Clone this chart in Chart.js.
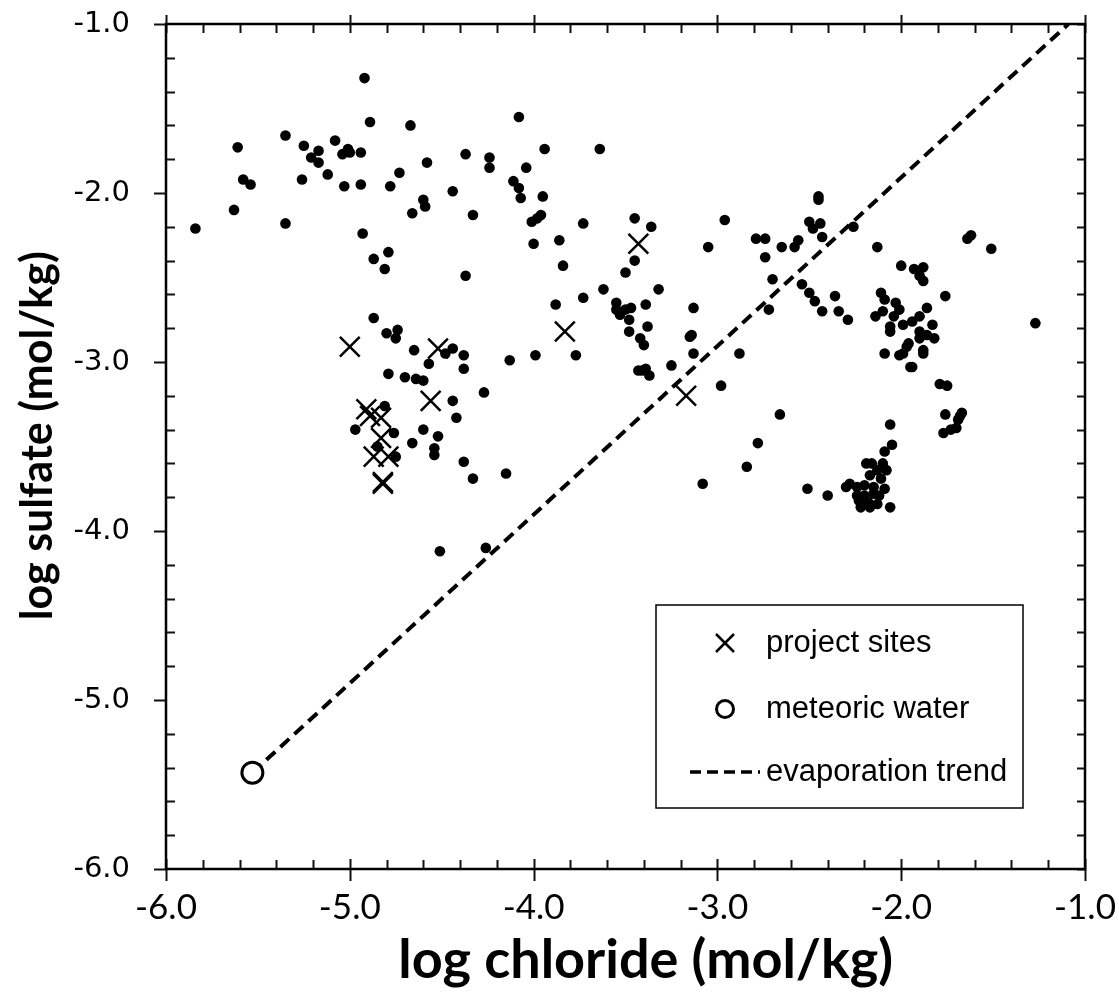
<!DOCTYPE html>
<html>
<head>
<meta charset="utf-8">
<script src="https://cdn.jsdelivr.net/npm/chart.js@4.4.0/dist/chart.umd.min.js"></script>
<style>
  html, body { margin: 0; padding: 0; background: #fff; }
  #wrap { width: 1119px; height: 1007px; }
</style>
</head>
<body>
<div id="wrap"><canvas id="sulfateChart"></canvas></div>
<script>
// other sites (black dots)
const chlorideOther = [
  -4.92,-4.89,-4.67,-5.35,-5.61,-5.25,-5.17,-5.21,-5.17,-5.08,-5.01,-5.04,-5.00,-4.94,-5.12,-5.26,-5.03,-4.94,-4.78,-4.73,
  -4.58,-4.37,-4.44,-4.60,-4.59,-4.66,-4.33,-5.58,-5.54,-5.63,-5.84,-5.35,-4.93,-4.87,-4.79,-4.81,-4.37,-4.87,-4.80,-4.74,
  -4.08,-4.24,-4.24,-3.94,-3.64,-4.04,-4.11,-4.08,-4.07,-3.95,-4.01,-3.98,-3.96,-4.00,-3.86,-3.84,-3.73,-3.45,-3.36,-3.45,
  -3.50,-3.62,-3.73,-3.88,-3.32,-3.39,-3.55,-3.47,-3.53,-3.48,-3.50,-3.55,-3.38,-3.48,-3.42,-3.13,-2.96,-3.05,-2.79,-2.74,
  -2.74,-2.70,-2.72,-3.15,
  -4.75,-4.65,-4.48,-4.44,-4.38,-4.57,-4.38,-4.79,-4.70,-4.64,-4.60,-4.44,-4.42,-4.81,-4.97,-4.76,-4.85,-4.75,-4.66,-4.60,
  -4.52,-4.54,-4.54,-4.38,-4.33,-4.51,
  -3.40,-3.14,-4.13,-3.99,-3.77,-3.13,-2.88,-3.41,-3.39,-3.37,-3.43,-3.25,-2.98,-4.27,-4.15,-2.66,-2.78,-2.84,-3.08,-4.26,
  -2.45,-2.45,-2.50,-2.44,-2.48,-2.43,-2.26,-2.65,-2.58,-2.56,-2.13,-2.54,-2.50,-2.47,-2.43,-2.36,-2.34,-2.29,-1.64,-1.62,
  -1.51,-2.00,-1.93,-1.88,-1.90,-1.88,-1.76,-1.27,
  -2.11,-2.09,-2.03,-2.01,-2.14,-2.10,-2.04,-1.86,-1.90,-1.94,-1.99,-1.83,-2.06,-2.06,-1.90,-1.86,-1.82,-1.90,-1.96,-1.97,
  -1.88,-1.88,-1.99,-2.01,-2.09,-1.95,-1.94,-1.79,-1.75,-1.76,-1.68,-1.67,
  -1.69,-1.70,-1.73,-1.77,-2.06,-2.05,-2.09,-2.19,-2.16,-2.10,-2.13,-2.08,-2.17,-2.11,-2.28,-2.30,-2.24,-2.20,-2.15,-2.09,
  -2.24,-2.20,-2.15,-2.12,-2.23,-2.18,-2.13,-2.22,-2.17,-2.06,-2.51,-2.40
];
const sulfateOther = [
  -1.32,-1.58,-1.60,-1.66,-1.73,-1.72,-1.75,-1.79,-1.82,-1.69,-1.74,-1.77,-1.76,-1.76,-1.89,-1.92,-1.96,-1.95,-1.96,-1.88,
  -1.82,-1.77,-1.99,-2.04,-2.08,-2.12,-2.13,-1.92,-1.95,-2.10,-2.21,-2.18,-2.24,-2.39,-2.35,-2.45,-2.49,-2.74,-2.83,-2.81,
  -1.55,-1.79,-1.85,-1.74,-1.74,-1.85,-1.93,-1.97,-2.03,-2.02,-2.17,-2.15,-2.13,-2.30,-2.28,-2.43,-2.18,-2.15,-2.20,-2.40,
  -2.47,-2.57,-2.62,-2.66,-2.57,-2.66,-2.65,-2.68,-2.72,-2.75,-2.69,-2.69,-2.79,-2.82,-2.86,-2.68,-2.16,-2.32,-2.27,-2.27,
  -2.38,-2.51,-2.69,-2.85,
  -2.86,-2.93,-2.95,-2.92,-2.96,-3.01,-3.04,-3.07,-3.09,-3.10,-3.11,-3.23,-3.33,-3.26,-3.40,-3.42,-3.50,-3.56,-3.48,-3.40,
  -3.44,-3.51,-3.55,-3.59,-3.69,-4.12,
  -2.90,-2.84,-2.99,-2.96,-2.96,-2.95,-2.95,-3.05,-3.04,-3.08,-3.05,-3.02,-3.14,-3.18,-3.66,-3.31,-3.48,-3.62,-3.72,-4.10,
  -2.02,-2.04,-2.17,-2.18,-2.21,-2.26,-2.20,-2.32,-2.32,-2.28,-2.32,-2.54,-2.59,-2.64,-2.70,-2.61,-2.70,-2.75,-2.27,-2.25,
  -2.33,-2.43,-2.45,-2.44,-2.49,-2.52,-2.61,-2.77,
  -2.59,-2.63,-2.65,-2.69,-2.73,-2.70,-2.73,-2.68,-2.73,-2.76,-2.78,-2.78,-2.79,-2.82,-2.82,-2.84,-2.86,-2.86,-2.89,-2.91,
  -2.93,-2.95,-2.95,-2.96,-2.95,-3.03,-3.03,-3.13,-3.14,-3.31,-3.32,-3.30,
  -3.34,-3.39,-3.40,-3.42,-3.37,-3.49,-3.53,-3.60,-3.60,-3.60,-3.64,-3.64,-3.67,-3.69,-3.72,-3.74,-3.74,-3.73,-3.74,-3.75,
  -3.79,-3.79,-3.78,-3.79,-3.82,-3.83,-3.84,-3.86,-3.86,-3.86,-3.75,-3.79
];

// project sites (crosses)
const chlorideProject = [-3.43,-3.83,-5.00,-4.52,-4.56,-4.91,-4.83,-4.89,-4.83,-4.87,-4.79,-4.82,-4.82,-3.17];
const sulfateProject  = [-2.30,-2.82,-2.91,-2.92,-3.23,-3.28,-3.33,-3.32,-3.45,-3.56,-3.56,-3.71,-3.72,-3.20];

// meteoric water and evaporation trend
const chlorideMeteoric = [-5.53];
const sulfateMeteoric  = [-5.43];
const chlorideTrend = [-5.53, -1.09];
const sulfateTrend  = [-5.43, -1.00];

const axisTicks = [-6, -5, -4, -3, -2, -1];
const legendLabels = ['project sites', 'meteoric water', 'evaporation trend'];

function pts(xs, ys) {
  return xs.map((x, i) => ({ x: x, y: ys[i] }));
}

// fixed plot box, no label overhang padding
function fixBox(s) {
  if (s.isHorizontal()) s.height = 1007 - 869; else s.width = 166;
  s.paddingLeft = 0; s.paddingRight = 0; s.paddingTop = 0; s.paddingBottom = 0;
}

// frame with inward minor ticks, drawn on all four sides
const frameTicks = {
  id: 'frameTicks',
  afterDatasetsDraw(chart) {
    const ctx = chart.ctx;
    const a = chart.chartArea;
    const xs = chart.scales.x;
    const ys = chart.scales.y;
    ctx.save();
    ctx.strokeStyle = '#111';
    ctx.lineWidth = 2;
    ctx.beginPath();
    for (let i = 0; i <= 25; i++) {
      const v = -6 + i * 0.2;
      const major = i % 5 === 0;
      const px = Math.round(xs.getPixelForValue(v)) + 0.5;
      const py = Math.round(ys.getPixelForValue(v)) + 0.5;
      if (major) {
        ctx.moveTo(px, a.bottom - 10); ctx.lineTo(px, a.bottom + 12);
        ctx.moveTo(px, a.top - 9); ctx.lineTo(px, a.top + 9);
        ctx.moveTo(a.left - 12, py); ctx.lineTo(a.left, py);
      } else {
        ctx.moveTo(px, a.bottom - 9); ctx.lineTo(px, a.bottom);
        ctx.moveTo(px, a.top); ctx.lineTo(px, a.top + 9);
        ctx.moveTo(a.left, py); ctx.lineTo(a.left + 9, py);
      }
      ctx.moveTo(a.right - 8, py); ctx.lineTo(a.right, py);
    }
    ctx.stroke();
    ctx.lineWidth = 2.5;
    ctx.strokeStyle = '#000';
    ctx.strokeRect(a.left, a.top, a.right - a.left, a.bottom - a.top);
    ctx.restore();
  }
};

// boxed legend inside the plot
const boxLegend = {
  id: 'boxLegend',
  afterDraw(chart) {
    const ctx = chart.ctx;
    const bx = 656, by = 605, bw = 367, bh = 203;
    ctx.save();
    ctx.fillStyle = '#fff';
    ctx.fillRect(bx, by, bw, bh);
    ctx.strokeStyle = '#000';
    ctx.lineWidth = 1.5;
    ctx.strokeRect(bx, by, bw, bh);

    const mx = 725, tx = 766;
    const rows = [643, 709, 772];
    ctx.lineWidth = 2.5;
    // cross
    const r = 9;
    ctx.beginPath();
    ctx.moveTo(mx - r, rows[0] - r); ctx.lineTo(mx + r, rows[0] + r);
    ctx.moveTo(mx + r, rows[0] - r); ctx.lineTo(mx - r, rows[0] + r);
    ctx.stroke();
    // open circle
    ctx.lineWidth = 3;
    ctx.beginPath();
    ctx.arc(mx, rows[1], 8.5, 0, Math.PI * 2);
    ctx.stroke();
    // dashed line
    ctx.lineWidth = 3.5;
    ctx.setLineDash([11, 6]);
    ctx.beginPath();
    ctx.moveTo(690, rows[2]); ctx.lineTo(760, rows[2]);
    ctx.stroke();
    ctx.setLineDash([]);

    ctx.fillStyle = '#000';
    ctx.font = '31px "Liberation Sans", Arial, sans-serif';
    ctx.textBaseline = 'middle';
    legendLabels.forEach((t, i) => ctx.fillText(t, tx, rows[i]));
    ctx.restore();
  }
};

const config = {
  type: 'scatter',
  data: {
    datasets: [
      {
        label: 'meteoric water',
        data: pts(chlorideMeteoric, sulfateMeteoric),
        pointStyle: 'circle',
        pointRadius: 10.5,
        backgroundColor: '#fff',
        borderColor: '#000',
        borderWidth: 3,
        order: 0
      },
      {
        label: 'project sites',
        data: pts(chlorideProject, sulfateProject),
        pointStyle: 'crossRot',
        pointRadius: 14,
        borderColor: '#000',
        borderWidth: 2.5,
        order: 1
      },
      {
        label: 'other sites',
        data: pts(chlorideOther, sulfateOther),
        pointStyle: 'circle',
        pointRadius: 5.3,
        backgroundColor: '#000',
        borderWidth: 0,
        order: 2
      },
      {
        label: 'evaporation trend',
        data: pts(chlorideTrend, sulfateTrend),
        showLine: true,
        borderColor: '#000',
        borderWidth: 4,
        borderDash: [12, 7],
        pointRadius: 0,
        order: 3
      }
    ]
  },
  options: {
    responsive: false,
    animation: false,
    layout: { padding: { top: 24, right: 34, left: 0, bottom: 0 } },
    plugins: {
      legend: { display: false },
      tooltip: { enabled: false }
    },
    scales: {
      x: {
        type: 'linear',
        min: -6, max: -1,
        afterBuildTicks: s => { s.ticks = axisTicks.map(v => ({ value: v })); },
        afterFit: fixBox,
        grid: { display: false, drawTicks: false },
        border: { display: false },
        ticks: {
          padding: 18,
          color: '#000',
          font: { family: 'Lato', size: 35 },
          callback: v => v.toFixed(1)
        },
        title: {
          display: true,
          text: '\u2003log chloride (mol/kg)',
          color: '#000',
          font: { family: 'Lato', size: 54, weight: 'bold' },
          padding: { top: 0, bottom: 14 }
        }
      },
      y: {
        type: 'linear',
        min: -6, max: -1,
        afterBuildTicks: s => { s.ticks = axisTicks.map(v => ({ value: v })); },
        afterFit: fixBox,
        grid: { display: false, drawTicks: false },
        border: { display: false },
        ticks: {
          padding: 36,
          color: '#000',
          font: { family: 'DejaVu Sans', size: 29 },
          callback: v => v.toFixed(1)
        },
        title: {
          display: true,
          text: '\u2002log sulfate (mol/kg)',
          color: '#000',
          font: { family: 'Lato', size: 43, weight: 'bold' },
          padding: { top: 12, bottom: 0 }
        }
      }
    }
  },
  plugins: [frameTicks, boxLegend]
};

const canvas = document.getElementById('sulfateChart');
canvas.width = 1119;
canvas.height = 1007;
new Chart(canvas.getContext('2d'), config);
</script>
</body>
</html>
